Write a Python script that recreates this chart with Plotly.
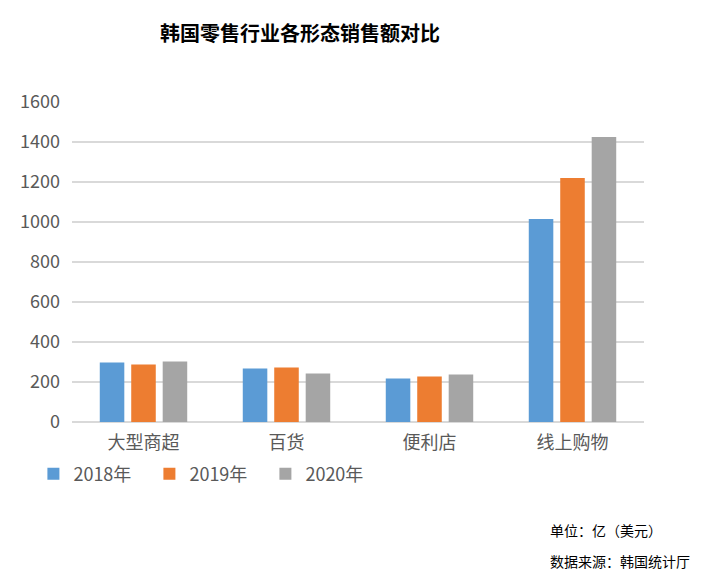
import plotly.graph_objects as go

categories = ["大型商超", "百货", "便利店", "线上购物"]
series_names = ["2018年", "2019年", "2020年"]
v2018 = [298, 268, 218, 1015]
v2019 = [288, 273, 228, 1220]
v2020 = [303, 243, 238, 1425]
colors = ["#5B9BD5", "#ED7D31", "#A5A5A5"]
tick_vals = [0, 200, 400, 600, 800, 1000, 1200, 1400, 1600]

font = "Noto Sans CJK SC"
OFF = 8  # page body offset
W, H = 715, 578
L, R, T, B = 66 - OFF, 644 - OFF, 102 - OFF, 422 - OFF
PW, PH = R - L, B - T

def px_x(x):
    return (x - OFF - L) / PW

def px_y(y):
    return (B - (y - OFF)) / PH

fig = go.Figure()
for name, vals, c in zip(series_names, [v2018, v2019, v2020], colors):
    fig.add_trace(go.Bar(x=categories, y=vals, name=name, marker=dict(color=c, line=dict(width=0))))

fig.update_layout(
    width=W, height=H,
    margin=dict(l=L, r=W - R, t=T, b=H - B),
    paper_bgcolor="white", plot_bgcolor="white",
    barmode="group", bargap=0.34, bargroupgap=0.22,
    font=dict(family=font, color="#595959", size=18),
    title=dict(text="<b>韩国零售行业各形态销售额对比</b>", x=(300 - OFF) / W, xanchor="center",
               y=1 - (34 - OFF) / H, yanchor="middle",
               font=dict(family=font, size=20, color="#000000")),
    xaxis=dict(showgrid=False, showline=False, ticks="", tickfont=dict(size=18, color="#595959"),
               ticklabelstandoff=8),
    yaxis=dict(range=[0, 1600], tickvals=tick_vals, showgrid=True, gridcolor="#D9D9D9", gridwidth=1.5,
               zeroline=True, zerolinecolor="#D9D9D9", zerolinewidth=1.5, showline=False, ticks="",
               tickfont=dict(size=18, color="#595959"), ticklabelstandoff=11),
    legend=dict(orientation="h", x=px_x(27), xanchor="left", y=px_y(474), yanchor="middle",
                font=dict(size=18, color="#595959"), entrywidth=71,
                itemwidth=30, traceorder="normal"),
)
fig.add_annotation(text="单位：亿（美元）", xref="paper", yref="paper", x=px_x(547), y=px_y(530),
                   xanchor="left", yanchor="middle", showarrow=False, font=dict(size=14, color="#000000"))
fig.add_annotation(text="数据来源：韩国统计厅", xref="paper", yref="paper", x=px_x(547), y=px_y(561),
                   xanchor="left", yanchor="middle", showarrow=False, font=dict(size=14, color="#000000"))
fig.write_html("out.html")
